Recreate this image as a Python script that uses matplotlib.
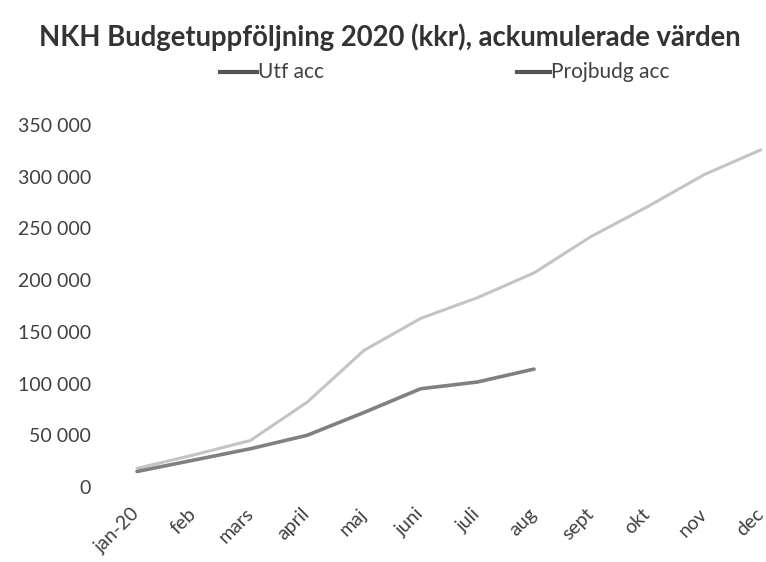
import matplotlib as mpl
import matplotlib.pyplot as plt
import matplotlib.transforms as mtransforms
from matplotlib.lines import Line2D
from matplotlib.ticker import FuncFormatter

mpl.use('Agg')

manader = ["jan-20", "feb", "mars", "april", "maj", "juni", "juli", "aug",
           "sept", "okt", "nov", "dec"]
utf_acc = [15000, 26000, 37000, 50000, 72000, 95000, 101500, 114000]
projbudg_acc = [18000, 31000, 45000, 82000, 132000, 163000, 183000, 207000,
                242000, 271000, 302000, 326000]
yticks = [0, 50000, 100000, 150000, 200000, 250000, 300000, 350000]
serier = ["Utf acc", "Projbudg acc"]

plt.rcParams['font.family'] = ['Lato', 'DejaVu Sans']

W, H = 766, 562
fig = plt.figure(figsize=(W / 100, H / 100), dpi=100)
ax = fig.add_axes([120 / W, 75 / H, 646 / W, 362 / H])

x_all = list(range(len(manader)))
ax.plot(x_all, projbudg_acc, color="#c4c4c4", lw=2.2, solid_capstyle="round")
ax.plot(x_all[:len(utf_acc)], utf_acc, color="#808080", lw=2.6, solid_capstyle="round")

ax.set_xlim(-0.3, 11.09)
ax.set_ylim(0, 350000)
ax.set_yticks(yticks)
ax.yaxis.set_major_formatter(FuncFormatter(lambda v, p: "{:,}".format(int(v)).replace(",", " ")))
ax.set_xticks(x_all)
ax.set_xticklabels(manader, rotation=45, ha="right", rotation_mode="anchor")
ax.tick_params(length=0, labelsize=14, labelcolor="#404040")
ax.tick_params(axis="y", pad=21)
ax.tick_params(axis="x", pad=13)
# flytta etiketterna lite åt vänster
skift = mtransforms.ScaledTranslation(-6 / 100, 0, fig.dpi_scale_trans)
for lbl in ax.get_xticklabels():
    lbl.set_transform(lbl.get_transform() + skift)
for s in ax.spines.values():
    s.set_visible(False)

fig.text(0.509, 0.934, "NKH Budgetuppföljning 2020 (kkr), ackumulerade värden",
         ha="center", va="center", fontsize=19.8, fontweight="bold", color="#333333")

# legend, ritad för hand
leg_y = 1 - 72 / H
for namn, x0, x1 in zip(serier, [220, 517], [257, 550]):
    fig.add_artist(Line2D([x0 / W, x1 / W], [leg_y, leg_y], transform=fig.transFigure,
                          color="#555555", lw=3))
    fig.text((x1 + 1) / W, leg_y, namn, ha="left", va="center", fontsize=15, color="#404040")

plt.savefig("out.png", dpi=100)
